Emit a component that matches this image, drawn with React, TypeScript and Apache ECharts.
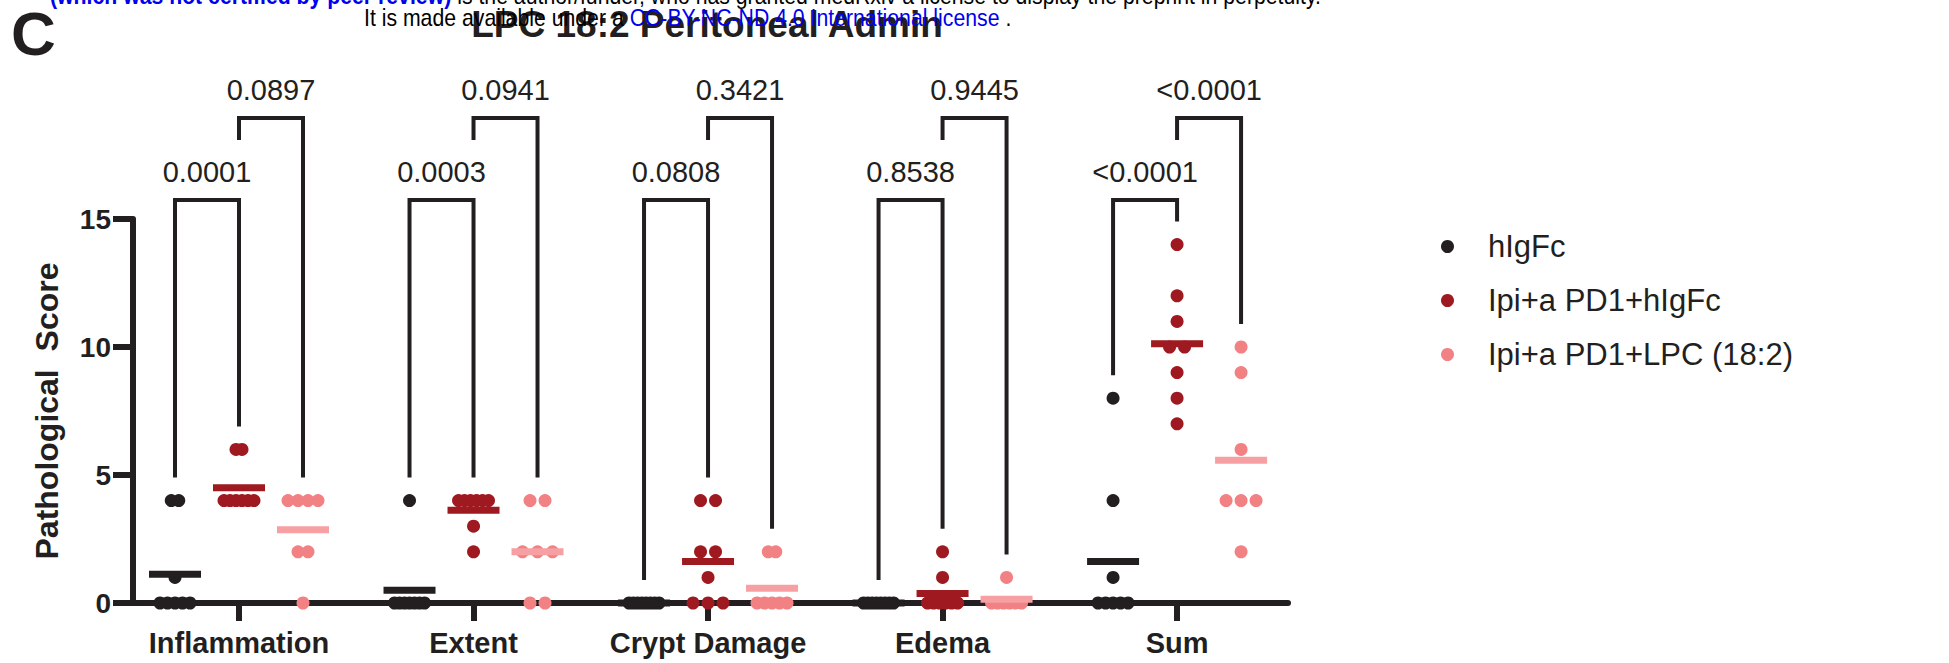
import React, { useEffect, useRef } from "react";
import * as echarts from "echarts";

// ---------- data ----------
const categories = ["Inflammation", "Extent", "Crypt Damage", "Edema", "Sum"];
const groupNames = ["hIgFc", "Ipi+a PD1+hIgFc", "Ipi+a PD1+LPC (18:2)"];

// per category: individual mouse scores
const hIgFc = [
  [4, 4, 1, 0, 0, 0, 0, 0],
  [4, 0, 0, 0, 0, 0, 0, 0],
  [0, 0, 0, 0, 0, 0, 0, 0],
  [0, 0, 0, 0, 0, 0, 0, 0],
  [8, 4, 1, 0, 0, 0, 0, 0],
];
const ipiHIgFc = [
  [6, 6, 4, 4, 4, 4, 4, 4],
  [4, 4, 4, 4, 4, 4, 3, 2],
  [4, 4, 2, 2, 1, 0, 0, 0],
  [2, 1, 0, 0, 0, 0, 0, 0],
  [14, 12, 11, 10, 10, 9, 8, 7],
];
const ipiLPC = [
  [4, 4, 4, 4, 2, 2, 0],
  [4, 4, 2, 2, 2, 0, 0],
  [2, 2, 0, 0, 0, 0, 0],
  [1, 0, 0, 0, 0, 0, 0],
  [10, 9, 6, 4, 4, 4, 2],
];
// p-values: hIgFc vs Ipi+a PD1+hIgFc, and Ipi+a PD1+hIgFc vs Ipi+a PD1+LPC
const pLeft = ["0.0001", "0.0003", "0.0808", "0.8538", "<0.0001"];
const pRight = ["0.0897", "0.0941", "0.3421", "0.9445", "<0.0001"];
const yTicks = [0, 5, 10, 15];

// ---------- style / layout ----------
const FONT = '"Liberation Sans", Arial, sans-serif';
const INK = "#231f20";
const dotColors = ["#231f20", "#9e1a20", "#f28184"];
const meanColors = ["#231f20", "#9e1a20", "#f6a0a4"];
const W = 1949;
const H = 663;
const AX_L = 133;
const AX_R = 1288;
const AX_T = 219;
const AX_B = 603;
const X_MIN = -0.452;
const X_MAX = 4.473;
const PX_PER_UNIT = (AX_R - AX_L) / (X_MAX - X_MIN);
const SUB_PX = 64;
const MAX_SPREAD_PX = 30;
const MAX_STEP_PX = 15;

const cols = [hIgFc, ipiHIgFc, ipiLPC];

function swarm(values: number[], g: number, k: number) {
  const counts = new Map<number, number>();
  values.forEach((v) => counts.set(v, (counts.get(v) || 0) + 1));
  const maxCount = Math.max(...Array.from(counts.values()));
  const step = maxCount > 1 ? Math.min(MAX_STEP_PX, MAX_SPREAD_PX / (maxCount - 1)) : 0;
  const seen = new Map<number, number>();
  return values.map((v) => {
    const c = counts.get(v) as number;
    const j = seen.get(v) || 0;
    seen.set(v, j + 1);
    const off = (k - 1) * SUB_PX + (j - (c - 1) / 2) * step;
    return [g + off / PX_PER_UNIT, v];
  });
}

function buildOption() {
  const dotSeries = cols.map((col, k) => ({
    name: groupNames[k],
    type: "scatter",
    symbol: "circle",
    symbolSize: 13,
    clip: false,
    z: 3,
    itemStyle: { color: dotColors[k], opacity: 1 },
    data: col.flatMap((vals, g) => swarm(vals, g, k)),
  }));
  const meanSeries = cols.map((col, k) => ({
    name: groupNames[k] + " mean",
    type: "scatter",
    symbol: "rect",
    symbolSize: [52, 7],
    clip: false,
    z: 4,
    itemStyle: { color: meanColors[k], opacity: 1 },
    data: col.map((vals, g) => [
      g + ((k - 1) * SUB_PX) / PX_PER_UNIT,
      vals.reduce((a, b) => a + b, 0) / vals.length,
    ]),
  }));
  const bracketData = categories.flatMap((_, g) => [
    [g, 0],
    [g, 1],
  ]);
  const bracketSeries = {
    name: "brackets",
    type: "custom",
    clip: false,
    z: 5,
    data: bracketData,
    renderItem: (params: any, api: any) => {
      const g = api.value(0) as number;
      const level = api.value(1) as number;
      const kL = level === 0 ? 0 : 1;
      const kR = kL + 1;
      const cx = api.coord([g, 0])[0];
      const xL = cx + (kL - 1) * SUB_PX;
      const xR = cx + (kR - 1) * SUB_PX;
      const y15 = api.coord([g, 15])[1];
      const top = y15 - 19 - level * 82;
      const legEnd = (k: number) => api.coord([g, Math.max(...cols[k][g])])[1] - 23;
      const yLb = level === 0 ? legEnd(kL) : top + 22;
      const yRb = legEnd(kR);
      const label = level === 0 ? pLeft[g] : pRight[g];
      return {
        type: "group",
        children: [
          {
            type: "polyline",
            shape: { points: [[xL, yLb], [xL, top], [xR, top], [xR, yRb]] },
            style: { stroke: INK, lineWidth: 4, fill: null },
          },
          {
            type: "text",
            style: {
              text: label,
              x: (xL + xR) / 2,
              y: top - 28,
              align: "center",
              verticalAlign: "middle",
              font: `29px ${FONT}`,
              fill: INK,
            },
          },
        ],
      };
    },
  };

  return {
    animation: false,
    backgroundColor: "#ffffff",
    grid: {
      left: AX_L,
      right: W - AX_R,
      top: AX_T,
      bottom: H - AX_B,
      containLabel: false,
      outerBoundsMode: "none",
    },
    legend: {
      data: groupNames.map((name) => ({ name, icon: "circle" })),
      orient: "vertical",
      left: 1436,
      top: 226,
      itemWidth: 13,
      itemHeight: 13,
      itemGap: 23,
      selectedMode: false,
      textStyle: { fontSize: 31, color: INK, fontFamily: FONT, padding: [0, 0, 0, 29] },
    },
    xAxis: {
      type: "value",
      min: X_MIN,
      max: X_MAX,
      splitLine: { show: false },
      axisLine: { show: true, onZero: false, lineStyle: { color: INK, width: 6 } },
      axisTick: { show: true, customValues: [0, 1, 2, 3, 4], length: 18, lineStyle: { color: INK, width: 6 } },
      axisLabel: {
        show: true,
        customValues: [0, 1, 2, 3, 4],
        formatter: (v: number) => categories[Math.round(v)] ?? "",
        margin: 25,
        fontSize: 29,
        fontWeight: "bold",
        fontFamily: FONT,
        color: INK,
      },
    },
    yAxis: {
      type: "value",
      min: 0,
      max: 15,
      interval: 5,
      name: "Pathological  Score",
      nameLocation: "middle",
      nameGap: 70,
      nameRotate: 90,
      nameTextStyle: { fontSize: 32, fontWeight: "bold", fontFamily: FONT, color: INK },
      splitLine: { show: false },
      axisLine: { show: true, onZero: false, lineStyle: { color: INK, width: 6 } },
      axisTick: { show: true, length: 20, lineStyle: { color: INK, width: 6 } },
      axisLabel: {
        margin: 22,
        fontSize: 28,
        fontWeight: "bold",
        fontFamily: FONT,
        color: INK,
        formatter: (v: number) => (yTicks.includes(v) ? String(v) : ""),
      },
    },
    graphic: [
      {
        type: "text",
        x: 11,
        y: 33,
        z: 10,
        style: { text: "C", font: `bold 62px ${FONT}`, fill: INK, align: "left", verticalAlign: "middle" },
      },
      {
        type: "text",
        x: 707,
        y: 24,
        z: 10,
        style: {
          text: "LPC 18:2 Peritoneal Admin",
          font: `bold 37px ${FONT}`,
          fill: INK,
          align: "center",
          verticalAlign: "middle",
        },
      },
      {
        type: "text",
        x: 50,
        y: -4,
        scaleX: 0.885,
        z: 20,
        style: {
          text:
            "{b|(which was not certified by peer review)}{k| is the author/funder, who has granted medRxiv a license to display the preprint in perpetuity.}",
          font: `24px ${FONT}`,
          align: "left",
          verticalAlign: "middle",
          rich: {
            b: { fill: "#0000ee", fontWeight: "bold", fontSize: 24, fontFamily: FONT },
            k: { fill: "#000000", fontSize: 24, fontFamily: FONT },
          },
        },
      },
      {
        type: "text",
        x: 364,
        y: 18,
        scaleX: 0.885,
        z: 20,
        style: {
          text: "{k|It is made available under a }{b|CC-BY-NC-ND 4.0 International license}{k| .}",
          font: `24px ${FONT}`,
          align: "left",
          verticalAlign: "middle",
          rich: {
            b: { fill: "#0000ee", fontSize: 24, fontFamily: FONT },
            k: { fill: "#000000", fontSize: 24, fontFamily: FONT },
          },
        },
      },
    ],
    series: [...dotSeries, ...meanSeries, bracketSeries],
  };
}

export default function App() {
  const ref = useRef<HTMLDivElement>(null);
  useEffect(() => {
    if (!ref.current) return;
    const chart = echarts.init(ref.current, null, { renderer: "svg" });
    chart.setOption(buildOption() as any);
    return () => chart.dispose();
  }, []);
  return (
    <div
      ref={ref}
      style={{ position: "absolute", left: 0, top: 0, width: W, height: H, background: "#fff" }}
    />
  );
}
